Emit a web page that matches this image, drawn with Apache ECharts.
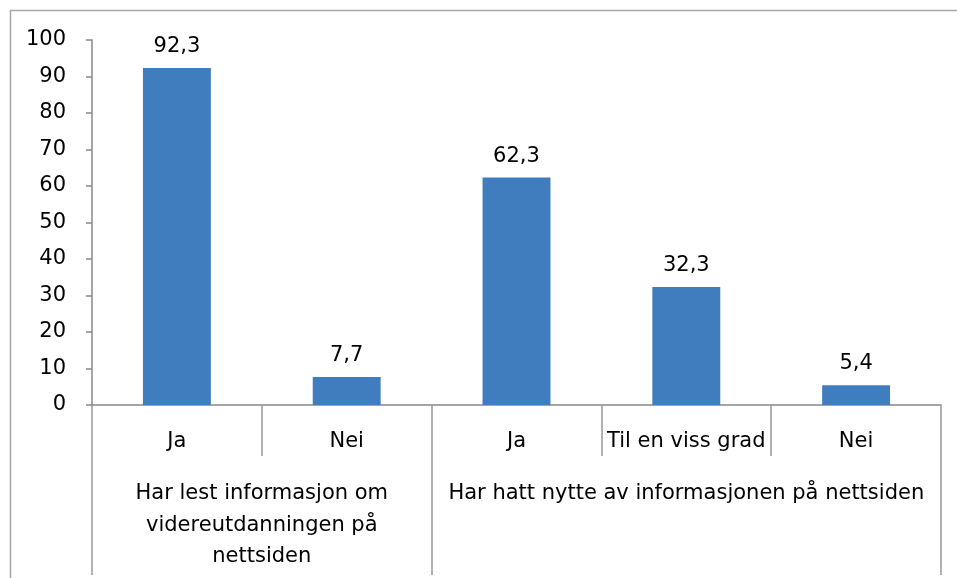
<!DOCTYPE html>
<html>
<head>
<meta charset="utf-8">
<script src="https://cdn.jsdelivr.net/npm/echarts@6/dist/echarts.min.js"></script>
<style>
html,body{margin:0;padding:0;background:#fff;}
#chart{width:957px;height:578px;}
</style>
</head>
<body>
<div id="chart"></div>
<script>
// Data
var categories = ['Ja', 'Nei', 'Ja', 'Til en viss grad', 'Nei'];
var values = [92.3, 7.7, 62.3, 32.3, 5.4];
var groupNames = ['Har lest informasjon om\nvidereutdanningen på\nnettsiden', 'Har hatt nytte av informasjonen på nettsiden'];
var groupSizes = [2, 3];
var yTicks = [0, 10, 20, 30, 40, 50, 60, 70, 80, 90, 100];

// group boundaries and centers (in category units)
var bounds = [0], centers = [];
groupSizes.forEach(function (s, i) {
  var start = bounds[bounds.length - 1];
  centers.push(start + s / 2);
  bounds.push(start + s);
});

var FONT = 'DejaVu Sans';
var FS = 21;
var chart = echarts.init(document.getElementById('chart'));
chart.setOption({
  backgroundColor: '#fff',
  animation: false,
  textStyle: { fontFamily: FONT, color: '#000' },
  graphic: [{
    type: 'rect',
    shape: { x: 10.5, y: 10.5, width: 1200, height: 1200 },
    style: { fill: 'none', stroke: '#a6a6a6', lineWidth: 1.5 },
    silent: true
  }],
  grid: { left: 92, right: 16, top: 40, bottom: 173, containLabel: false },
  xAxis: [{
    type: 'category',
    data: categories,
    position: 'bottom',
    axisLine: { show: true, lineStyle: { color: '#888', width: 1.5 } },
    axisTick: { show: true, length: 51, alignWithLabel: false, lineStyle: { color: '#999', width: 1.5 } },
    axisLabel: { fontFamily: FONT, fontSize: FS, color: '#000', margin: 25, lineHeight: 24, interval: 0 },
    splitLine: { show: false }
  }, {
    type: 'value',
    min: 0,
    max: bounds[bounds.length - 1],
    position: 'bottom',
    axisLine: { show: false },
    splitLine: { show: false },
    axisTick: { show: true, length: 170, customValues: bounds, lineStyle: { color: '#999', width: 1.5 } },
    axisLabel: {
      fontFamily: FONT, fontSize: FS, color: '#000', margin: 73, lineHeight: 31.5, align: 'center',
      customValues: centers,
      formatter: function (v) {
        var i = centers.indexOf(v);
        return i >= 0 ? groupNames[i] : '';
      }
    }
  }],
  yAxis: {
    type: 'value',
    min: yTicks[0],
    max: yTicks[yTicks.length - 1],
    interval: 10,
    axisLine: { show: true, lineStyle: { color: '#888', width: 1.5 } },
    axisTick: { show: true, length: 6, lineStyle: { color: '#888', width: 1.5 } },
    axisLabel: { fontFamily: FONT, fontSize: FS, color: '#000', margin: 26 },
    splitLine: { show: false }
  },
  series: [{
    type: 'bar',
    xAxisIndex: 0,
    data: values,
    barWidth: '40%',
    itemStyle: { color: '#3F7DBF' },
    label: {
      show: true,
      position: 'top',
      distance: 11,
      fontFamily: FONT,
      fontSize: FS,
      color: '#000',
      formatter: function (p) { return String(p.value.toFixed(1)).replace('.', ','); }
    }
  }]
});
</script>
</body>
</html>
